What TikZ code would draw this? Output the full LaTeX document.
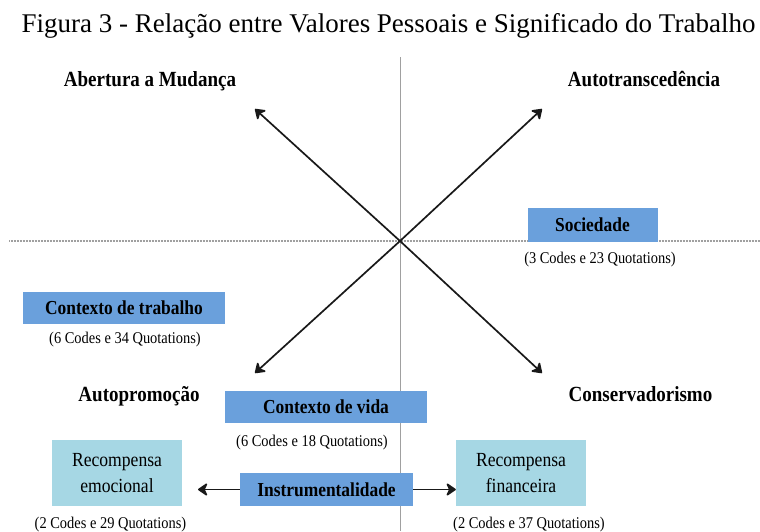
\documentclass[tikz,border=0pt]{standalone}
\usepackage{fontspec}
\setmainfont{Liberation Serif}
\newfontfamily\cond{Liberation Serif}[FakeStretch=0.88]
\usetikzlibrary{arrows.meta}
\definecolor{midblue}{RGB}{106,160,220}
\definecolor{lightblue}{RGB}{166,215,228}
\definecolor{axisgray}{RGB}{160,160,160}
\tikzset{
  heading/.style={font=\cond\fontsize{21.6}{24}\selectfont\bfseries, inner sep=0pt, anchor=base},
  boxlabel/.style={fill=midblue, font=\cond\fontsize{19.8}{22}\selectfont\bfseries, inner sep=0pt, anchor=center},
  lightbox/.style={fill=lightblue, font=\cond\fontsize{20}{26}\selectfont, inner sep=0pt, align=center, anchor=center, minimum width=130pt, minimum height=66pt},
  note/.style={font=\cond\fontsize{16.4}{18}\selectfont, inner sep=0pt, anchor=base},
  barrow/.style={line width=1.7pt, draw=black!90, -{Stealth[length=11pt, width=15pt, inset=3.5pt, round]}},
  axis/.style={draw=axisgray, line width=0.9pt}
}
\begin{document}
\begin{tikzpicture}[x=1pt, y=-1pt]
\useasboundingbox (0,0) rectangle (760,531);
% title
\node[font=\fontsize{27}{30}\selectfont, inner sep=0pt, anchor=base] (title) at (388.5,32) {Figura 3 - Relação entre Valores Pessoais e Significado do Trabalho};
% axes
\coordinate (vtop) at (400,57);
\coordinate (vbot) at (400,531);
\coordinate (hl) at (9,241);
\coordinate (hr) at (760,241);
\draw[axis] (vtop) -- (vbot);
\draw[axis, line width=1.1pt, dash pattern=on 1pt off 0.5pt] (hl) -- (hr);
% diagonal arrows
\coordinate (c) at (400,241);
\coordinate (ul) at (255,109);
\coordinate (ur) at (542,109);
\coordinate (ll) at (255,373);
\coordinate (lr) at (542,373);
\draw[barrow] (c) -- (ul);
\draw[barrow] (c) -- (ur);
\draw[barrow] (c) -- (ll);
\draw[barrow] (c) -- (lr);
% headings
\node[heading] (abert) at (150,86) {Abertura a Mudança};
\node[heading] (autot) at (644,86) {Autotranscedência};
\node[heading] (autop) at (139,401) {Autopromoção};
\node[heading] (conse) at (640.5,401) {Conservadorismo};
% boxes
\node[boxlabel, minimum width=130pt, minimum height=34pt] (soc) at (592.5,224.5) {Sociedade};
\node[note] (socn) at (600,263) {(3 Codes e 23 Quotations)};
\node[boxlabel, minimum width=202pt, minimum height=32pt] (ctrab) at (124,308) {Contexto de trabalho};
\node[note] (ctrabn) at (125,343) {(6 Codes e 34 Quotations)};
\node[boxlabel, minimum width=202pt, minimum height=32pt] (cvida) at (326,407) {Contexto de vida};
\node[note] (cvidan) at (312,446) {(6 Codes e 18 Quotations)};
\node[lightbox] (emo) at (117,473) {Recompensa\\emocional};
\node[note] (emon) at (110.5,528) {(2 Codes e 29 Quotations)};
\node[lightbox] (fin) at (521,473) {Recompensa\\financeira};
\node[note] (finn) at (529,528) {(2 Codes e 37 Quotations)};
\node[boxlabel, minimum width=173pt, minimum height=33pt] (instr) at (326.5,489.5) {Instrumentalidade};
\coordinate (emotip) at (198,489.5);
\draw[barrow] (instr.west) -- (emotip);
\draw[barrow] (instr.east) -- (fin.west |- instr.east);
\end{tikzpicture}
\end{document}
